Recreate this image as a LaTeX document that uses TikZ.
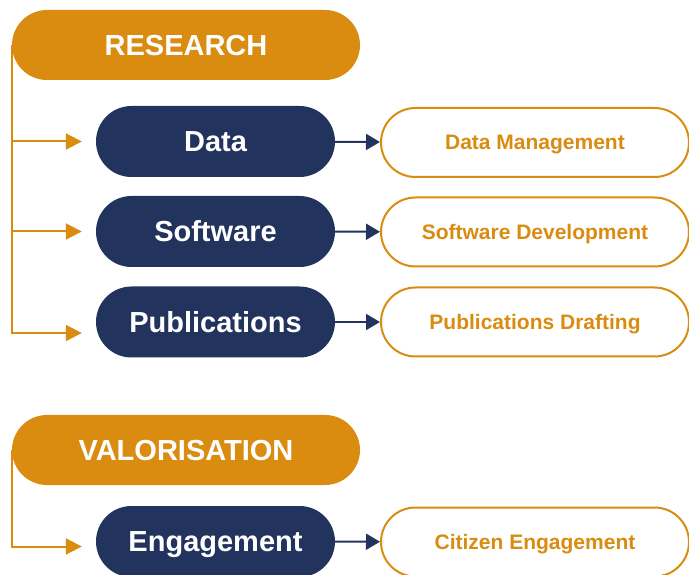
\documentclass[tikz,border=0pt]{standalone}
\usepackage{fontspec}
\setmainfont{Liberation Sans}
\usetikzlibrary{arrows.meta,positioning}

\definecolor{ochre}{RGB}{218,140,16}
\definecolor{navy}{RGB}{34,52,94}

\begin{document}
\begin{tikzpicture}[x=1pt,y=1pt,
        area/.style={fill=ochre,text=white,font=\fontsize{29}{34}\selectfont\bfseries,
            text height=20.8pt,text depth=0pt,
            minimum width=348pt,minimum height=70pt,rounded corners=35pt,inner sep=0pt},
        topic/.style={fill=navy,text=white,font=\fontsize{29}{34}\selectfont\bfseries,
            text height=20.8pt,text depth=0pt,
            minimum width=239pt,minimum height=71pt,rounded corners=35.5pt,inner sep=0pt},
        task/.style={draw=ochre,line width=2pt,fill=white,text=ochre,font=\fontsize{21}{25}\selectfont\bfseries,
            text height=15pt,text depth=0pt,
            minimum width=308pt,minimum height=69pt,rounded corners=34.5pt,inner sep=0pt},
        branch/.style={draw=ochre,line width=2pt,-{Triangle[length=16pt,width=16pt]},shorten >=14pt},
        link/.style={draw=navy,line width=2pt,-{Triangle[length=14pt,width=16pt]}}]
        \useasboundingbox (0,0) rectangle (689,574);

        \node[area] (r) at (186,529) {RESEARCH};
        \node[topic] (d) at (215.5,432.5) {Data};
        \node[topic] (s) at (215.5,342.5) {Software};
        \node[topic] (p) at (215.5,252) {Publications};
        \node[task] (dm) at (535,431.5) {Data Management};
        \node[task] (sd) at (535,342) {Software Development};
        \node[task] (pd) at (535,252) {Publications Drafting};

        \draw[branch] (r.west) |- ([yshift=-11pt]p.west);
        \draw[branch] (r.west |- d) -- (d);
        \draw[branch] (r.west |- s) -- (s);
        \draw[link] (d) -- (dm);
        \draw[link] (s) -- (sd);
        \draw[link] (p) -- (pd);

        \node[area] (v) at (186,124) {VALORISATION};
        \node[topic] (e) at (215.5,32.5) {Engagement};
        \node[task] (ce) at (535,32) {Citizen Engagement};

        \draw[branch] (v.west) |- ([yshift=-5pt]e.west);
        \draw[link] (e) -- (ce);
    \end{tikzpicture}
\end{document}
